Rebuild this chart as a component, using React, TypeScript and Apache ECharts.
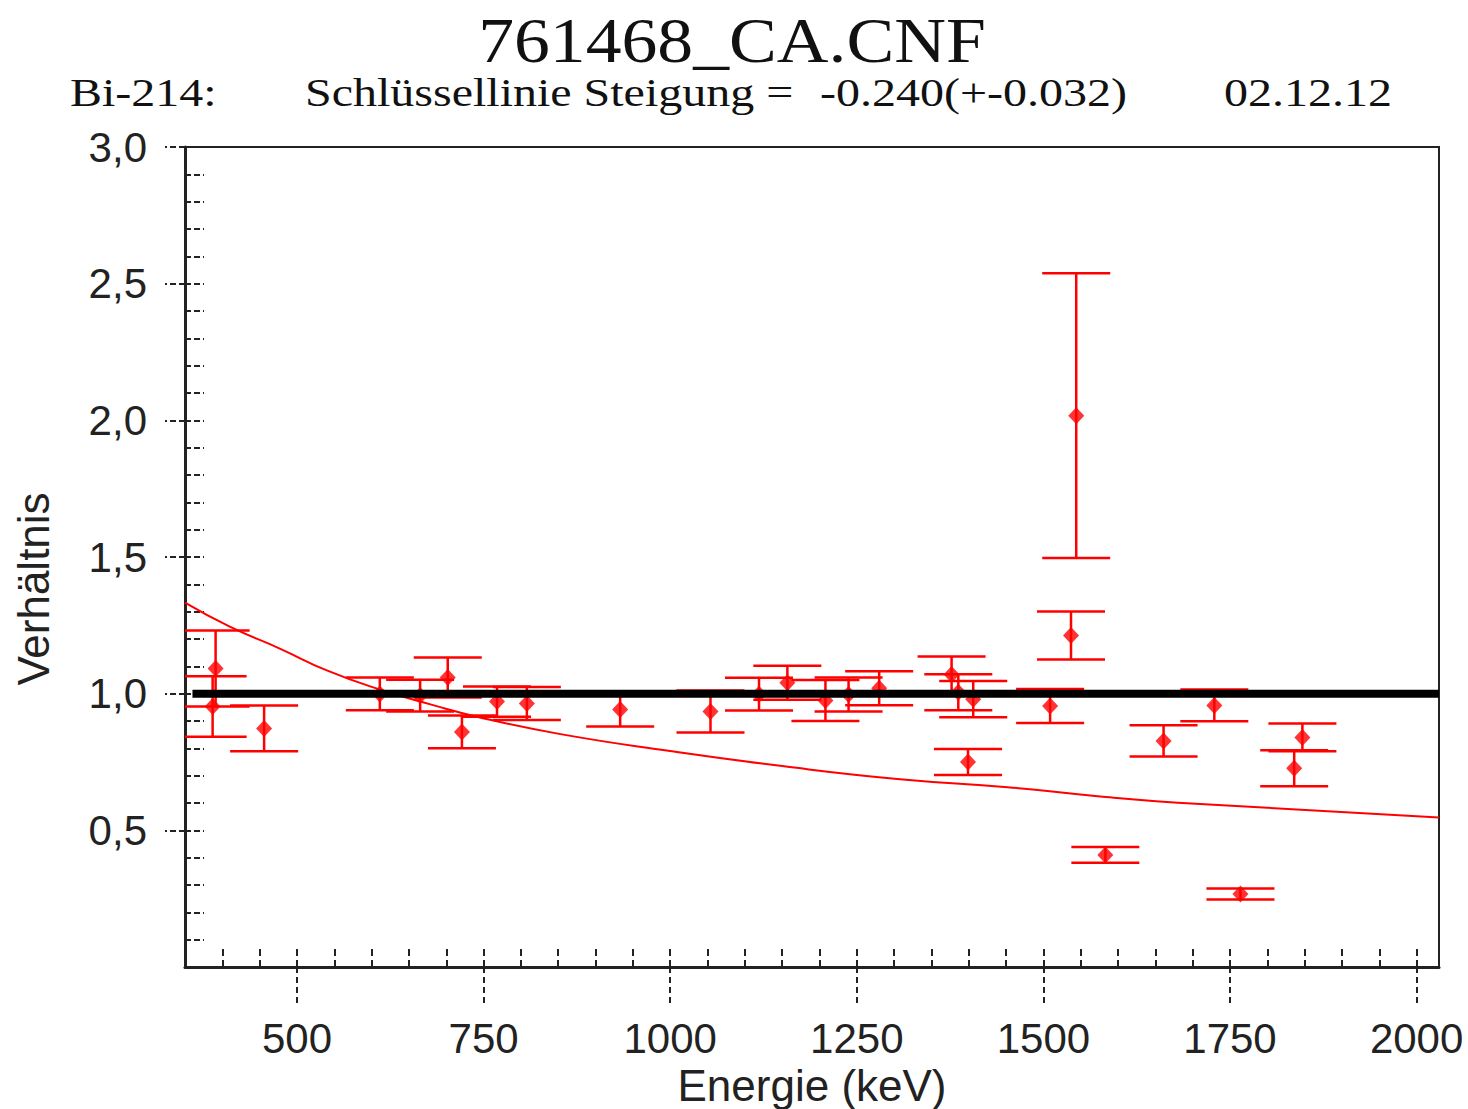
import React, { useEffect, useRef } from "react";
import * as echarts from "echarts";

// Measured points: energy (keV), ratio, uncertainty
const energies = [391, 387, 456, 611, 665, 702, 721, 768, 808, 933, 1054, 1119, 1157, 1208, 1239, 1280, 1377, 1386, 1406, 1399, 1509, 1544, 1537, 1583, 1661, 1729, 1764, 1847, 1836];
const ratios = [1.092, 0.953, 0.873, 0.999, 0.993, 1.059, 0.86, 0.971, 0.964, 0.942, 0.935, 0.998, 1.04, 0.975, 0.997, 1.02, 1.07, 1.005, 0.98, 0.75, 0.955, 2.017, 1.213, 0.41, 0.827, 0.957, 0.267, 0.84, 0.727];
const errors = [0.139, 0.111, 0.084, 0.06, 0.058, 0.073, 0.06, 0.055, 0.06, 0.062, 0.077, 0.06, 0.062, 0.075, 0.062, 0.062, 0.066, 0.066, 0.066, 0.048, 0.062, 0.521, 0.088, 0.029, 0.057, 0.058, 0.02, 0.051, 0.066];

// Fitted key-line curve
const fitEnergy = [350, 410, 477, 540, 611, 680, 745, 853, 1000, 1150, 1308, 1452, 1576, 1710, 2030];
const fitRatio = [1.333, 1.245, 1.165, 1.085, 1.015, 0.96, 0.913, 0.852, 0.79, 0.735, 0.687, 0.658, 0.624, 0.596, 0.547];

// Reference line at ratio 1
const refEnergy = [360, 2030];
const refRatio = [1.0, 1.0];

const xMajorTicks = [500, 750, 1000, 1250, 1500, 1750, 2000];
const yMajorTicks = [0.5, 1.0, 1.5, 2.0, 2.5, 3.0];

const titleText = "761468_CA.CNF";
const subLabel = "Bi-214:";
const subText = "Schlüssellinie Steigung =";
const subValue = "-0.240(+-0.032)";
const subDate = "02.12.12";
const xName = "Energie (keV)";
const yName = "Verhältnis";

const RED = "#ff0000";
const SANS = "'Liberation Sans', Arial, sans-serif";
const SERIF = "'Liberation Serif', 'Times New Roman', serif";

export default function App() {
  const ref = useRef<HTMLDivElement>(null);
  useEffect(() => {
    document.body.style.margin = "0";
    const chart = echarts.init(ref.current!, null, { renderer: "svg" });
    const points = energies.map((e, i) => [e, ratios[i], errors[i]]);
    const grid = { left: 185, right: 29, top: 147, bottom: 142 };
    const subStyle = (text: string, align: string) => ({
      text,
      font: `40px ${SERIF}`,
      fill: "#111",
      align,
      verticalAlign: "middle",
    });
    chart.setOption({
      animation: false,
      backgroundColor: "#ffffff",
      grid: { ...grid, show: true, borderColor: "#222", borderWidth: 2, backgroundColor: "transparent" },
      xAxis: [
        {
          type: "value",
          min: 350,
          max: 2030,
          axisLine: { show: true, onZero: false, lineStyle: { color: "#222", width: 3 } },
          axisTick: {
            show: true,
            inside: false,
            length: 38,
            customValues: xMajorTicks,
            lineStyle: { color: "#222", width: 2, type: [6, 4] },
          },
          axisLabel: {
            customValues: xMajorTicks,
            margin: 50,
            fontFamily: SANS,
            fontSize: 42,
            color: "#222",
            formatter: (v: number) => String(v),
          },
          splitLine: { show: false },
        },
        {
          type: "value",
          min: 350,
          max: 2030,
          interval: 50,
          position: "bottom",
          axisLine: { show: false },
          axisTick: { show: true, inside: true, length: 20, lineStyle: { color: "#222", width: 2, type: [7, 4] } },
          axisLabel: { show: false },
          splitLine: { show: false },
        },
      ],
      yAxis: [
        {
          type: "value",
          min: 0,
          max: 3,
          axisLine: { show: true, onZero: false, lineStyle: { color: "#222", width: 3 } },
          axisTick: {
            show: true,
            inside: false,
            length: 20,
            customValues: yMajorTicks,
            lineStyle: { color: "#222", width: 2, type: [6, 3] },
          },
          axisLabel: {
            customValues: yMajorTicks,
            margin: 38,
            fontFamily: SANS,
            fontSize: 42,
            color: "#222",
            formatter: (v: number) => v.toFixed(1).replace(".", ","),
          },
          splitLine: { show: false },
        },
        {
          type: "value",
          min: 0,
          max: 3,
          interval: 0.1,
          position: "left",
          axisLine: { show: false },
          axisTick: { show: true, inside: true, length: 19, lineStyle: { color: "#222", width: 2, type: [6, 3] } },
          axisLabel: { show: false },
          splitLine: { show: false },
        },
      ],
      series: [
        {
          type: "line",
          data: fitEnergy.map((e, i) => [e, fitRatio[i]]),
          smooth: true,
          showSymbol: false,
          symbol: "none",
          lineStyle: { color: RED, width: 2 },
          z: 2,
        },
        {
          type: "custom",
          data: points,
          clip: true,
          encode: { x: 0, y: 1 },
          renderItem: (params: any, api: any) => {
            const x = api.value(0);
            const y = api.value(1);
            const e = api.value(2);
            const top = api.coord([x, y + e]);
            const bot = api.coord([x, y - e]);
            const hw = 34;
            const style = { stroke: RED, lineWidth: 2.5 };
            return {
              type: "group",
              children: [
                { type: "line", shape: { x1: top[0], y1: top[1], x2: bot[0], y2: bot[1] }, style },
                { type: "line", shape: { x1: top[0] - hw, y1: top[1], x2: top[0] + hw, y2: top[1] }, style },
                { type: "line", shape: { x1: bot[0] - hw, y1: bot[1], x2: bot[0] + hw, y2: bot[1] }, style },
              ],
            };
          },
          z: 3,
        },
        {
          type: "scatter",
          data: points.map((p) => [p[0], p[1]]),
          symbol: "diamond",
          symbolSize: [16, 17],
          itemStyle: { color: RED },
          z: 4,
        },
        {
          type: "line",
          data: refEnergy.map((e, i) => [e, refRatio[i]]),
          showSymbol: false,
          symbol: "none",
          lineStyle: { color: "#000", width: 8 },
          z: 5,
        },
      ],
      graphic: [
        {
          type: "text",
          x: 732,
          y: 40,
          scaleX: 1.12,
          style: { text: titleText, font: `64px ${SERIF}`, fill: "#111", align: "center", verticalAlign: "middle" },
        },
        { type: "text", x: 70, y: 93, scaleX: 1.2, style: subStyle(subLabel, "left") },
        { type: "text", x: 305, y: 93, scaleX: 1.2, style: subStyle(subText, "left") },
        { type: "text", x: 1127, y: 93, scaleX: 1.2, style: subStyle(subValue, "right") },
        { type: "text", x: 1392, y: 93, scaleX: 1.2, style: subStyle(subDate, "right") },
        {
          type: "text",
          x: 33,
          y: 589,
          rotation: Math.PI / 2,
          style: { text: yName, font: `44px ${SANS}`, fill: "#222", align: "center", verticalAlign: "middle" },
        },
        {
          type: "text",
          x: 812,
          y: 1085,
          style: { text: xName, font: `44px ${SANS}`, fill: "#222", align: "center", verticalAlign: "middle" },
        },
      ],
    });
    return () => chart.dispose();
  }, []);
  return <div ref={ref} style={{ width: 1468, height: 1109, position: "absolute", left: 0, top: 0 }} />;
}
